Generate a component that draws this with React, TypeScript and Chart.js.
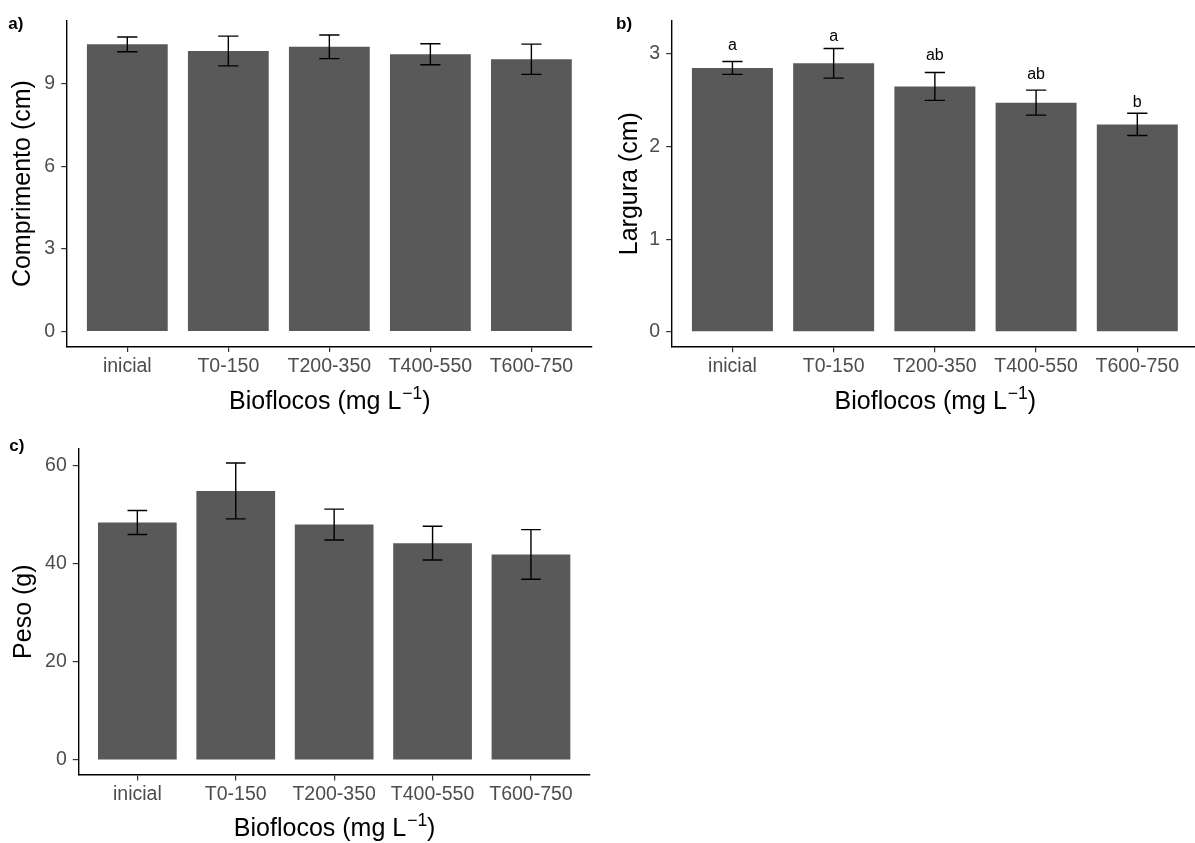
import React, { useEffect, useRef } from "react";
import { Chart, registerables } from "chart.js";

Chart.register(...registerables);

// ---------- data ----------
const categories = ["inicial", "T0-150", "T200-350", "T400-550", "T600-750"];

const comprimentoMean = [10.44, 10.2, 10.35, 10.08, 9.9];
const comprimentoSE = [0.27, 0.54, 0.43, 0.38, 0.55];
const comprimentoTicks = [0, 3, 6, 9];

const larguraMean = [2.85, 2.9, 2.65, 2.475, 2.24];
const larguraSE = [0.07, 0.16, 0.15, 0.135, 0.12];
const larguraTicks = [0, 1, 2, 3];
const larguraLetters = ["a", "a", "ab", "ab", "b"];
const larguraLetterY = [3.04, 3.14, 2.935, 2.73, 2.43];

const pesoMean = [48.45, 54.9, 48.05, 44.25, 41.95];
const pesoSE = [2.45, 5.7, 3.15, 3.45, 5.05];
const pesoTicks = [0, 20, 40, 60];

// ---------- style ----------
const FF = "'Liberation Sans', Arial, Helvetica, sans-serif";
const BAR = "#595959";
const TICK_TXT = "#4D4D4D";
const TICK_SIZE = 19.5;
const TITLE_SIZE = 25;

type Spec = {
  key: string;
  left: number;
  top: number;
  w: number;
  h: number;
  area: { l: number; r: number; t: number; b: number };
  xMax: number;
  yMin: number;
  yMax: number;
  means: number[];
  ses: number[];
  ticks: number[];
  yTitle: string;
  yTitleX: number;
  xTitleY: number;
  label: string;
  labelX: number;
  labelY: number;
  letters?: string[];
  letterY?: number[];
};

const specs: Spec[] = [
  {
    key: "a",
    left: 0, top: 0, w: 595, h: 421,
    area: { l: 66.7, r: 592, t: 20.7, b: 346.5 },
    xMax: 4.6, yMin: -0.54, yMax: 11.3,
    means: comprimentoMean, ses: comprimentoSE, ticks: comprimentoTicks,
    yTitle: "Comprimento (cm)", yTitleX: 29.5, xTitleY: 409,
    label: "a)", labelX: 8.3, labelY: 29.3,
  },
  {
    key: "b",
    left: 595, top: 0, w: 600, h: 421,
    area: { l: 76.7, r: 600, t: 20.7, b: 346.7 },
    xMax: 4.57, yMin: -0.16, yMax: 3.36,
    means: larguraMean, ses: larguraSE, ticks: larguraTicks,
    yTitle: "Largura (cm)", yTitleX: 41.5, xTitleY: 409,
    label: "b)", labelX: 21, labelY: 29.3,
    letters: larguraLetters, letterY: larguraLetterY,
  },
  {
    key: "c",
    left: 0, top: 421, w: 595, h: 422,
    area: { l: 78.3, r: 590, t: 27.3, b: 354 },
    xMax: 4.6, yMin: -3.05, yMax: 63.6,
    means: pesoMean, ses: pesoSE, ticks: pesoTicks,
    yTitle: "Peso (g)", yTitleX: 30.5, xTitleY: 415,
    label: "c)", labelX: 9.3, labelY: 30,
  },
];

function Panel({ spec }: { spec: Spec }) {
  const ref = useRef<HTMLCanvasElement>(null);

  useEffect(() => {
    const canvas = ref.current!;
    const overlay = {
      id: "overlay" + spec.key,
      afterDatasetsDraw(chart: any) {
        const ctx = chart.ctx as CanvasRenderingContext2D;
        const xs = chart.scales.x;
        const ys = chart.scales.y;
        ctx.save();
        ctx.strokeStyle = "#000";
        ctx.lineWidth = 1.4;
        const half = xs.getPixelForValue(0.1) - xs.getPixelForValue(0);
        spec.means.forEach((m, i) => {
          const x = xs.getPixelForValue(i);
          const yt = ys.getPixelForValue(m + spec.ses[i]);
          const yb = ys.getPixelForValue(m - spec.ses[i]);
          ctx.beginPath();
          ctx.moveTo(x, yt);
          ctx.lineTo(x, yb);
          ctx.moveTo(x - half, yt);
          ctx.lineTo(x + half, yt);
          ctx.moveTo(x - half, yb);
          ctx.lineTo(x + half, yb);
          ctx.stroke();
        });
        if (spec.letters && spec.letterY) {
          ctx.fillStyle = "#000";
          ctx.font = `16px ${FF}`;
          ctx.textAlign = "center";
          ctx.textBaseline = "alphabetic";
          spec.letters.forEach((t, i) => {
            ctx.fillText(t, xs.getPixelForValue(i), ys.getPixelForValue(spec.letterY![i]));
          });
        }
        ctx.restore();
      },
      afterDraw(chart: any) {
        const ctx = chart.ctx as CanvasRenderingContext2D;
        const xs = chart.scales.x;
        const area = chart.chartArea;
        ctx.save();
        ctx.fillStyle = "#000";
        // panel label
        ctx.font = `bold 17px ${FF}`;
        ctx.textAlign = "left";
        ctx.textBaseline = "alphabetic";
        ctx.fillText(spec.label, spec.labelX, spec.labelY);
        // x title with superscript
        const main = "Bioflocos (mg L";
        const sup = "\u22121";
        const close = ")";
        const supSize = TITLE_SIZE * 0.7;
        ctx.font = `${TITLE_SIZE}px ${FF}`;
        const w1 = ctx.measureText(main).width;
        const w3 = ctx.measureText(close).width;
        ctx.font = `${supSize}px ${FF}`;
        const w2 = ctx.measureText(sup).width;
        const cx = xs.getPixelForValue(2);
        const x0 = cx - (w1 + w2 + w3) / 2;
        ctx.font = `${TITLE_SIZE}px ${FF}`;
        ctx.fillText(main, x0, spec.xTitleY);
        ctx.font = `${supSize}px ${FF}`;
        ctx.fillText(sup, x0 + w1 + 1, spec.xTitleY - 10.5);
        ctx.font = `${TITLE_SIZE}px ${FF}`;
        ctx.fillText(close, x0 + w1 + w2 + 1, spec.xTitleY);
        // y title
        ctx.translate(spec.yTitleX, (area.top + area.bottom) / 2);
        ctx.rotate(-Math.PI / 2);
        ctx.textAlign = "center";
        ctx.font = `${TITLE_SIZE}px ${FF}`;
        ctx.fillText(spec.yTitle, 0, 0);
        ctx.restore();
      },
    };

    const chart = new Chart(canvas, {
      type: "bar",
      data: {
        datasets: [
          {
            data: spec.means.map((v, i) => ({ x: i, y: v })) as any,
            backgroundColor: BAR,
            borderWidth: 0,
            barPercentage: 0.8,
            categoryPercentage: 1,
          },
        ],
      },
      options: {
        responsive: false,
        animation: false,
        devicePixelRatio: 1,
        layout: {
          padding: { left: 0, top: spec.area.t, right: spec.w - spec.area.r, bottom: 0 },
        },
        plugins: { legend: { display: false }, tooltip: { enabled: false } },
        scales: {
          x: {
            type: "linear",
            offset: false,
            min: -0.6,
            max: spec.xMax,
            afterBuildTicks: (s: any) => {
              s.ticks = categories.map((_, i) => ({ value: i }));
            },
            afterFit: (s: any) => {
              s.height = spec.h - spec.area.b;
            },
            ticks: {
              autoSkip: false,
              maxRotation: 0,
              minRotation: 0,
              padding: 2.5,
              color: TICK_TXT,
              font: { family: FF, size: TICK_SIZE },
              callback: (v: any) => categories[Math.round(Number(v))],
            },
            grid: {
              display: true,
              offset: false,
              drawOnChartArea: false,
              drawTicks: true,
              tickLength: 5.5,
              color: "#333333",
              lineWidth: 1.2,
            },
            border: { display: true, color: "#000", width: 1.4 },
          },
          y: {
            type: "linear",
            min: spec.yMin,
            max: spec.yMax,
            afterBuildTicks: (s: any) => {
              s.ticks = spec.ticks.map((v) => ({ value: v }));
            },
            afterFit: (s: any) => {
              s.width = spec.area.l;
            },
            ticks: {
              padding: 6,
              color: TICK_TXT,
              font: { family: FF, size: TICK_SIZE },
              callback: (v: any) => String(v),
            },
            grid: {
              display: true,
              drawOnChartArea: false,
              drawTicks: true,
              tickLength: 5.5,
              color: "#333333",
              lineWidth: 1.2,
            },
            border: { display: true, color: "#000", width: 1.4 },
          },
        },
      } as any,
      plugins: [overlay],
    });
    return () => chart.destroy();
  }, [spec]);

  return (
    <canvas
      ref={ref}
      width={spec.w}
      height={spec.h}
      style={{ position: "absolute", left: spec.left, top: spec.top, width: spec.w, height: spec.h }}
    />
  );
}

export default function App() {
  return (
    <div style={{ position: "absolute", left: 0, top: 0, width: 1195, height: 843, background: "#fff" }}>
      {specs.map((s) => (
        <Panel key={s.key} spec={s} />
      ))}
    </div>
  );
}
